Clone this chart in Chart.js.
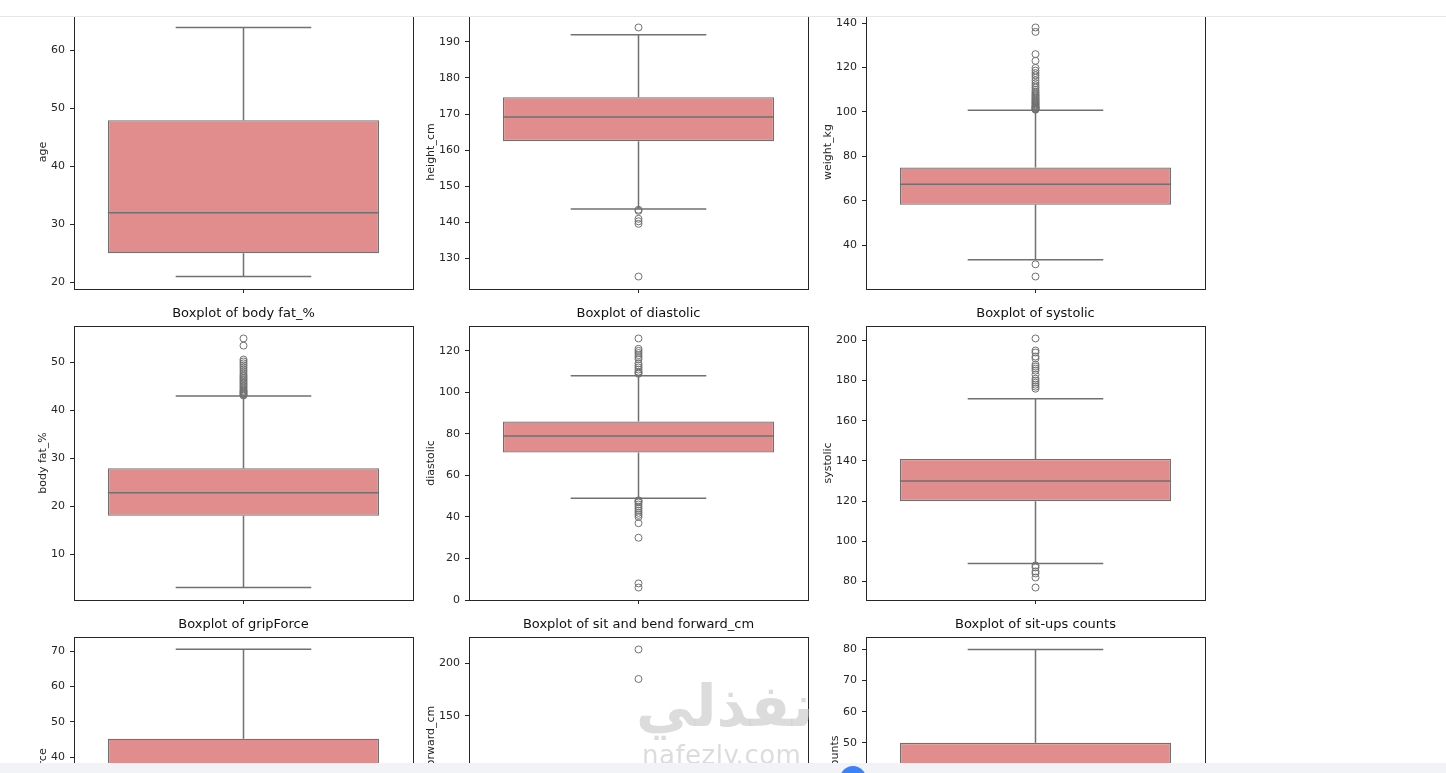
<!DOCTYPE html>
<html>
<head>
<meta charset="utf-8">
<script src="https://cdn.jsdelivr.net/npm/chart.js@4.4.1/dist/chart.umd.min.js"></script>
<style>
  body { margin: 0; width: 1446px; height: 773px; overflow: hidden; background: #fff; position: relative; font-family: 'DejaVu Sans', sans-serif; }
  .cell { position: absolute; }
  #topbar { position: absolute; left: 0; top: 0; width: 1446px; height: 16px; background: #fff; border-bottom: 1px solid #e6e6e6; z-index: 5; }
  #bottombar { position: absolute; left: 0; top: 763px; width: 1446px; height: 10px; background: #f1f3f7; z-index: 5; }
  #dot { position: absolute; left: 840px; top: 766px; width: 26px; height: 26px; border-radius: 50%; background: #3b82f6; z-index: 6; }
  #wm1 { position: absolute; left: 636px; top: 672px; font: bold 58px 'DejaVu Sans', sans-serif; color: rgba(208,208,208,0.75); z-index: 4; direction: rtl; }
  #wm2 { position: absolute; left: 642px; top: 740px; font: 26px 'DejaVu Sans', sans-serif; color: rgba(208,208,208,0.75); z-index: 4; letter-spacing: 0.5px; }
</style>
</head>
<body>
<div id="topbar"></div>
<div id="wm1">نفذلي</div>
<div id="wm2">nafezly.com</div>
<div id="bottombar"></div>
<div id="dot"></div>
<script>
// названия переменных (по одному графику на каждую)
const plotNames = ['age', 'height_cm', 'weight_kg', 'body fat_%', 'diastolic', 'systolic', 'gripForce', 'sit and bend forward_cm', 'sit-ups counts'];

// статистики ящиков
const q1s      = [25,   162.5, 58.3,  18.0, 71,  120, 27.5, 10.9, 27];
const medians  = [32,   169.2, 67.5,  22.8, 79,  130, 37.9, 16.2, 41];
const q3s      = [48,   174.7, 75.0,  27.9, 86,  141, 45.2, 20.7, 50];
const whiskLo  = [21,   143.7, 33.5,  3.0,  49,  89,  0,    -3.8, 0];
const whiskHi  = [64,   192.0, 100.8, 43.0, 108, 171, 70.5, 35.4, 80];

// выбросы
const outliers = [
  [],
  [194, 143.5, 143.2, 141, 140.3, 139.6, 125],
  [138, 136, 126, 123, 119.8, 118.6, 117.5, 116.5, 115.4, 114.2, 113, 112, 111, 110, 109.2, 108.6, 108, 107.5, 107,
   106.4, 106, 105.5, 105, 104.6, 104.2, 103.8, 103.4, 103, 102.6, 102.3, 102, 101.8, 101.5, 101.2, 101, 31.5, 26],
  [55, 53.5, 50.6, 50.2, 49.8, 49.4, 49, 48.6, 48.2, 47.8, 47.4, 47.1, 46.8, 46.5, 46.2, 45.9, 45.6, 45.3, 45, 44.7,
   44.4, 44.1, 43.9, 43.7, 43.5, 43.3, 43.1],
  [126, 121, 120, 119, 118, 117, 116, 114, 113, 112, 111, 110, 109.5, 109,
   48, 47.5, 47, 46, 45, 44, 43, 42, 41, 40, 37, 30, 8, 6],
  [201, 195, 194, 192, 191, 188, 187, 186, 185, 183, 181, 180, 179, 178, 177, 176, 88, 87, 85, 84, 82, 77],
  [],
  [213, 185, -25, -20],
  []
];

// пределы осей Y и шаг делений
const yMin  = [18.85, 121.55, 20.4,  0.4,  0,   70.8,  -3.5, -35,   -4];
const yMax  = [66.15, 197.45, 143.6, 57.6, 132, 207.2, 74,   224.8, 84];
const yStep = [10,    10,     20,    10,   20,  20,    10,   50,    10];

// геометрия сетки 3x3
const colLeft = [74, 469, 866];
const rowTop = [15, 326, 637];
const plotW = 339, plotH = 274;
const TITLE_H = 21, XAX_H = 20, RPAD = 10;

const BOX_FILL = '#e28d8d';
const LINE = '#707070';
const AXIS = '#262626';

Chart.defaults.font.family = "'DejaVu Sans', sans-serif";
Chart.defaults.color = AXIS;

// усы, засечки и медиана поверх ящика
function makeBoxLines(i) {
  return {
    id: 'boxLines',
    afterDatasetDraw(chart, args) {
      if (args.meta.type !== 'bar') return;
      const bar = args.meta.data[0];
      const y = chart.scales.y;
      const ctx = chart.ctx;
      const cx = bar.x, w = bar.width;
      ctx.save();
      ctx.strokeStyle = LINE;
      ctx.lineWidth = 1.5;
      ctx.beginPath();
      ctx.moveTo(cx, y.getPixelForValue(q3s[i]));
      ctx.lineTo(cx, y.getPixelForValue(whiskHi[i]));
      ctx.moveTo(cx, y.getPixelForValue(q1s[i]));
      ctx.lineTo(cx, y.getPixelForValue(whiskLo[i]));
      ctx.moveTo(cx - w / 4, y.getPixelForValue(whiskHi[i]));
      ctx.lineTo(cx + w / 4, y.getPixelForValue(whiskHi[i]));
      ctx.moveTo(cx - w / 4, y.getPixelForValue(whiskLo[i]));
      ctx.lineTo(cx + w / 4, y.getPixelForValue(whiskLo[i]));
      ctx.moveTo(cx - w / 2, y.getPixelForValue(medians[i]));
      ctx.lineTo(cx + w / 2, y.getPixelForValue(medians[i]));
      ctx.stroke();
      ctx.restore();
    }
  };
}

// рамка вокруг области графика (все четыре оси как в matplotlib)
const frame = {
  id: 'frame',
  afterDraw(chart) {
    const a = chart.chartArea, ctx = chart.ctx;
    ctx.save();
    ctx.strokeStyle = AXIS;
    ctx.lineWidth = 1;
    ctx.strokeRect(Math.round(a.left) + 0.5, Math.round(a.top) + 0.5, Math.round(a.width), Math.round(a.height));
    ctx.restore();
  }
};

plotNames.forEach((name, i) => {
  const row = Math.floor(i / 3), col = i % 3;
  const digits = String(Math.floor(yMax[i])).length;
  const axW = 29 + 7 * digits;

  const wrap = document.createElement('div');
  wrap.className = 'cell';
  wrap.style.left = (colLeft[col] - axW) + 'px';
  wrap.style.top = (rowTop[row] - TITLE_H) + 'px';
  wrap.style.width = (axW + plotW + RPAD) + 'px';
  wrap.style.height = (TITLE_H + plotH + XAX_H) + 'px';
  const canvas = document.createElement('canvas');
  wrap.appendChild(canvas);
  document.body.appendChild(wrap);

  new Chart(canvas, {
    type: 'bar',
    data: {
      labels: [name],
      datasets: [
        {
          type: 'scatter',
          data: outliers[i].map(v => ({ x: 0, y: v })),
          pointRadius: 3.5,
          pointStyle: 'circle',
          backgroundColor: 'rgba(0,0,0,0)',
          borderColor: LINE,
          borderWidth: 1
        },
        {
          type: 'bar',
          data: [[q1s[i], q3s[i]]],
          backgroundColor: BOX_FILL,
          borderColor: LINE,
          borderWidth: 1.3,
          borderSkipped: false,
          categoryPercentage: 0.8,
          barPercentage: 1
        }
      ]
    },
    options: {
      responsive: true,
      maintainAspectRatio: false,
      animation: false,
      events: [],
      layout: { padding: { left: 0, right: RPAD, top: 0, bottom: 0 } },
      plugins: {
        legend: { display: false },
        tooltip: { enabled: false },
        title: {
          display: true,
          fullSize: false,
          text: 'Boxplot of ' + name,
          color: '#111',
          font: { size: 13, weight: 'normal', lineHeight: '14px' },
          padding: { top: 2, bottom: 5 }
        }
      },
      scales: {
        x: {
          type: 'category',
          offset: true,
          ticks: { display: false },
          grid: { display: true, offset: false, drawOnChartArea: false, drawTicks: true, tickLength: 4, color: AXIS },
          border: { display: false },
          afterFit: s => { s.height = XAX_H; }
        },
        y: {
          min: yMin[i],
          max: yMax[i],
          ticks: { stepSize: yStep[i], includeBounds: false, padding: 5, color: AXIS, font: { size: 11 } },
          grid: { display: true, drawOnChartArea: false, drawTicks: true, tickLength: 4, color: AXIS },
          border: { display: false },
          title: { display: true, text: name, color: AXIS, font: { size: 11 }, padding: { top: 6, bottom: 0 } },
          afterFit: s => { s.width = axW; }
        }
      }
    },
    plugins: [makeBoxLines(i), frame]
  });
});
</script>
</body>
</html>
